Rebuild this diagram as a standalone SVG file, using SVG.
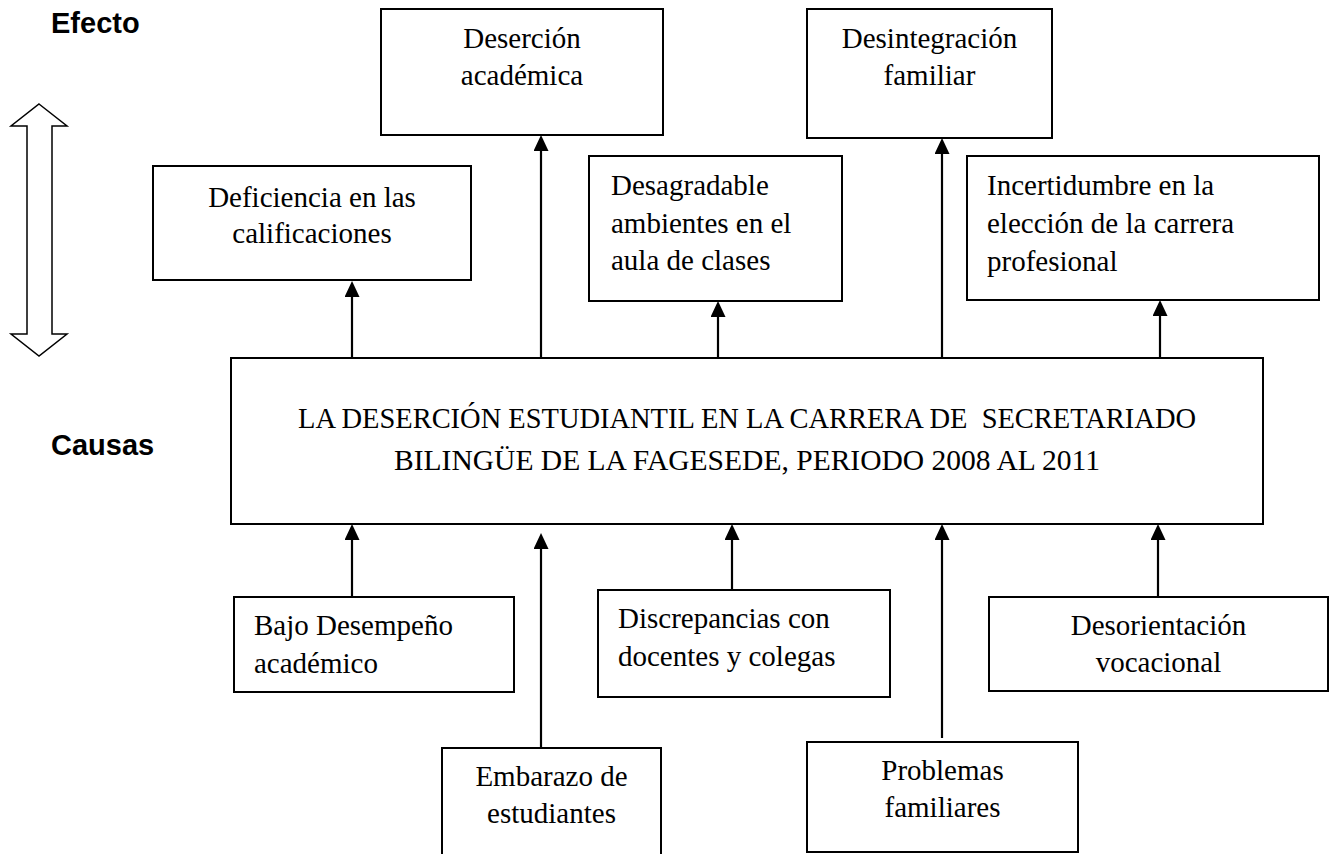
<svg xmlns="http://www.w3.org/2000/svg" width="1337" height="854" viewBox="0 0 1337 854">
<style>
.box{fill:#fff;stroke:#000;stroke-width:2}
.t{font-family:"Liberation Serif","Times New Roman",serif;font-size:29px;fill:#000}
.c{text-anchor:middle}
.main{font-family:"Liberation Serif","Times New Roman",serif;font-size:30px;fill:#000;text-anchor:middle;white-space:pre}
.lbl{font-family:"Liberation Sans",Arial,sans-serif;font-size:29px;font-weight:bold;fill:#000}
.conn line{stroke:#000;stroke-width:2.2;marker-end:url(#ah)}
</style>
<defs>
<marker id="ah" viewBox="0 0 16 15" refX="8" refY="7.5" markerWidth="16" markerHeight="15" orient="auto" markerUnits="userSpaceOnUse">
<path d="M0,0 L16,7.5 L0,15 z" fill="#000"/>
</marker>
</defs>
<rect width="1337" height="854" fill="#fff"/>

<g id="label-efecto"><text class="lbl" x="51" y="33">Efecto</text></g>
<g id="label-causas"><text class="lbl" x="51" y="455">Causas</text></g>

<g id="double-arrow">
<path d="M39,104 L67,126 L52,126 L52,334 L67,334 L39,356 L11,334 L27,334 L27,126 L11,126 Z" fill="#fff" stroke="#000" stroke-width="1.5"/>
</g>

<g id="n-desercion-academica">
<rect class="box" x="381" y="9" width="282" height="126"/>
<text class="t c" x="522" y="48">Deserción</text>
<text class="t c" x="522" y="85">académica</text>
</g>

<g id="n-deficiencia">
<rect class="box" x="153" y="166" width="318" height="114"/>
<text class="t c" x="312" y="207">Deficiencia en las</text>
<text class="t c" x="312" y="243">calificaciones</text>
</g>

<g id="n-desagradable">
<rect class="box" x="589" y="156" width="253" height="145"/>
<text class="t" x="611" y="195">Desagradable</text>
<text class="t" x="611" y="233">ambientes en el</text>
<text class="t" x="611" y="270">aula de clases</text>
</g>

<g id="n-desintegracion">
<rect class="box" x="807" y="9" width="245" height="129"/>
<text class="t c" x="929.5" y="48">Desintegración</text>
<text class="t c" x="929.5" y="85">familiar</text>
</g>

<g id="n-incertidumbre">
<rect class="box" x="967" y="156" width="352" height="144"/>
<text class="t" x="987" y="195">Incertidumbre en la</text>
<text class="t" x="987" y="233">elección de la carrera</text>
<text class="t" x="987" y="271">profesional</text>
</g>

<g id="n-problema-central">
<rect class="box" x="231" y="358" width="1032" height="166"/>
<text class="main" x="747" y="428" textLength="898" lengthAdjust="spacingAndGlyphs">LA DESERCIÓN ESTUDIANTIL EN LA CARRERA DE  SECRETARIADO</text>
<text class="main" x="747" y="470" textLength="706" lengthAdjust="spacingAndGlyphs">BILINGÜE DE LA FAGESEDE, PERIODO 2008 AL 2011</text>
</g>

<g id="n-bajo-desempeno">
<rect class="box" x="234" y="597" width="280" height="95"/>
<text class="t" x="254" y="635">Bajo Desempeño</text>
<text class="t" x="254" y="673">académico</text>
</g>

<g id="n-embarazo">
<path class="box" d="M442,856 L442,748 L661,748 L661,856"/>
<text class="t c" x="551.5" y="786">Embarazo de</text>
<text class="t c" x="551.5" y="823">estudiantes</text>
</g>

<g id="n-discrepancias">
<rect class="box" x="598" y="590" width="292" height="107"/>
<text class="t" x="618" y="628">Discrepancias con</text>
<text class="t" x="618" y="666">docentes y colegas</text>
</g>

<g id="n-problemas">
<rect class="box" x="807" y="742" width="271" height="110"/>
<text class="t c" x="942.5" y="780">Problemas</text>
<text class="t c" x="942.5" y="817">familiares</text>
</g>

<g id="n-desorientacion">
<rect class="box" x="989" y="597" width="339" height="94"/>
<text class="t c" x="1158.5" y="635">Desorientación</text>
<text class="t c" x="1158.5" y="672">vocacional</text>
</g>

<g id="connectors" class="conn">
<line x1="352" y1="358" x2="352" y2="289"/>
<line x1="541" y1="358" x2="541" y2="143"/>
<line x1="718" y1="358" x2="718" y2="309"/>
<line x1="942" y1="358" x2="942" y2="146"/>
<line x1="1160" y1="358" x2="1160" y2="308"/>
<line x1="352" y1="597" x2="352" y2="532"/>
<line x1="541" y1="748" x2="541" y2="541"/>
<line x1="732" y1="590" x2="732" y2="532"/>
<line x1="942" y1="738" x2="942" y2="532"/>
<line x1="1158" y1="597" x2="1158" y2="532"/>
</g>
</svg>
